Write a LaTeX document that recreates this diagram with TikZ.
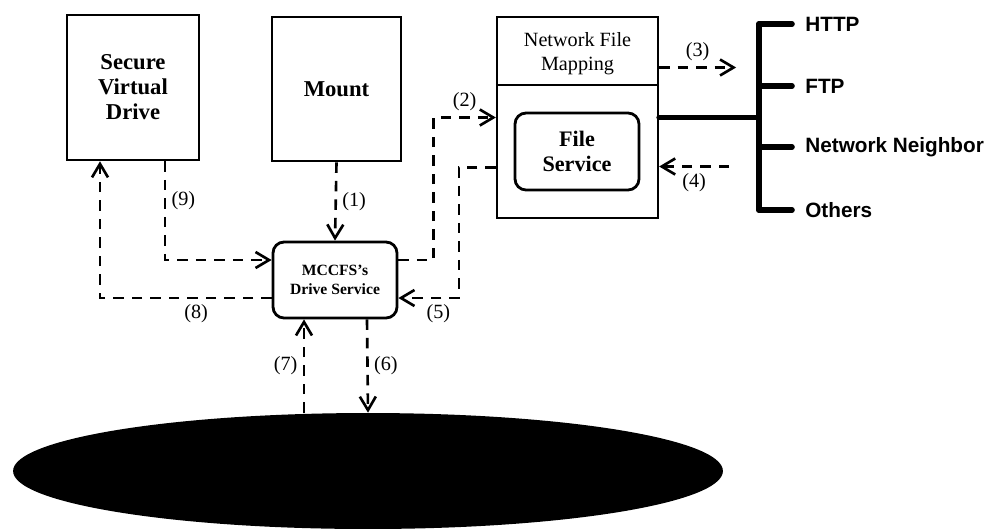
\documentclass[tikz,border=0pt]{standalone}
\usepackage{fontspec}
\setmainfont{Liberation Serif}
\newfontfamily\protofont{Liberation Sans}
\usetikzlibrary{arrows.meta,calc,positioning,shapes.geometric}

\tikzset{
  box/.style={draw, line width=1.5pt, align=center, inner sep=0pt,
    font=\bfseries\fontsize{12.9}{14.2}\selectfont},
  service/.style={draw, line width=1.6pt, rounded corners=2.2mm, align=center, inner sep=0pt},
  flow/.style={line width=1.5pt, dash pattern=on 2.1mm off 1.6mm,
    -{Straight Barb[length=2.7mm,width=3.2mm]}},
  steplabel/.style={font=\fontsize{11.5}{12}\selectfont, inner sep=3pt},
  bus/.style={line width=3.2pt, line cap=round},
  proto/.style={font=\protofont\bfseries\fontsize{11.8}{13}\selectfont, anchor=west, inner sep=0pt},
}

\begin{document}
\begin{tikzpicture}[x=0.02cm, y=-0.02cm]
        \useasboundingbox (0,0) rectangle (989,528);

        % Boxes on top
        \node[box, minimum width=26.4mm, minimum height=29mm] (svd) at (133,87.5) {Secure\\Virtual\\Drive};
        \node[box, minimum width=25.8mm, minimum height=28.8mm] (mount) at (336.5,89) {Mount};

        % Network file mapping with its file service
        \node[box, line width=1.3pt, minimum width=32.2mm, minimum height=40.2mm] (nfm) at (577.5,117.5) {};
        \node[font=\fontsize{11.5}{13.6}\selectfont, align=center] (nfmtitle) at ($(nfm.north)+(0,38)$) {Network File\\Mapping};
        \draw[line width=0.9pt] ($(nfm.north west)+(0,69)$) -- ($(nfm.north east)+(0,69)$);
        \node[service, minimum width=24.8mm, minimum height=15.4mm,
          font=\bfseries\fontsize{12.6}{14.2}\selectfont] (fs) at (577,151.5) {File\\Service};

        % Drive service
        \node[service, minimum width=24.8mm, minimum height=15.2mm,
          font=\bfseries\fontsize{8.9}{10.8}\selectfont] (mccfs) at (335,280) {MCCFS's\\Drive Service};

        % Disk
        \node[ellipse, fill=black, minimum width=142mm, minimum height=23.2mm, inner sep=0pt] (disk) at (368,471) {};

        % Protocols
        \node[proto] (http) at (805,24) {HTTP};
        \node[proto] (ftp) at (805,86) {FTP};
        \node[proto] (neighbor) at (805,147) {Network Neighbor};
        \node[proto] (others) at (805,210) {Others};
        \coordinate (bus) at (759,117.5);
        \draw[bus] (nfm.east) -- (bus);
        \draw[bus] (bus |- http.west) -- (bus |- others.west);
        \foreach \p in {http,ftp,neighbor,others}
          \draw[bus] (bus |- \p.west) -- ($(\p.west)+(-13,0)$);

        % Flows
        \draw[flow] (mount.south) -- (mccfs.north) node[steplabel, midway, right] {(1)};
        \draw[flow] ($(mccfs.east)+(0,-20)$) -- ++(35,0) |- (nfm.west) node[steplabel, pos=0.75, above] {(2)};
        \draw[flow] ($(nfm.east)+(0,-50)$) -- ++(77,0) node[steplabel, midway, above] {(3)};
        \coordinate (c4) at ($(nfm.east)+(70,49)$);
        \draw[flow] (c4) -- (c4 -| nfm.east) node[steplabel, midway, below] {(4)};
        \draw[flow] ($(nfm.west)+(0,50)$) -- ++(-37,0) |- ($(mccfs.east)+(0,18)$) node[steplabel, pos=0.67, below] {(5)};
        \draw[flow] ($(mccfs.south)+(32,0)$) -- (disk.north) node[steplabel, midway, right] {(6)};
        \coordinate (c7) at ($(mccfs.south)+(-31,0)$);
        \draw[flow] (c7 |- disk.north) -- (c7) node[steplabel, midway, left] {(7)};
        \draw[flow] ($(mccfs.west)+(0,18)$) -| ($(svd.south)+(-33,0)$) node[steplabel, pos=0.22, below] {(8)};
        \draw[flow] ($(svd.south)+(32,0)$) |- ($(mccfs.west)+(0,-20)$) node[steplabel, pos=0.2, right] {(9)};

    \end{tikzpicture}
\end{document}
